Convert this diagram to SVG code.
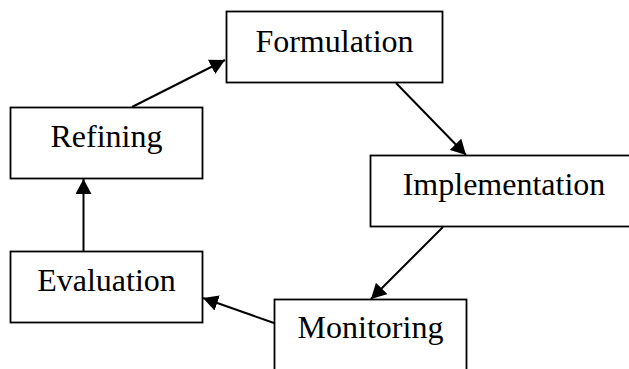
<svg xmlns="http://www.w3.org/2000/svg" width="629" height="369" viewBox="0 0 629 369">
<style>
.box{fill:#fff;stroke:#000;stroke-width:1.8}
.lbl{font-family:"Liberation Serif","Times New Roman",serif;font-size:32px;fill:#000;text-anchor:middle}
.edge{stroke:#000;stroke-width:2;fill:none;marker-end:url(#ah)}
</style>
<defs>
<marker id="ah" markerUnits="userSpaceOnUse" markerWidth="16" markerHeight="16" refX="15" refY="8" orient="auto">
<path d="M0,0 L15,8 L0,16 z" fill="#000"/>
</marker>
</defs>
<rect width="629" height="369" fill="#fff"/>
<g id="formulation"><rect class="box" x="226.5" y="11.5" width="216" height="71"/><text class="lbl" x="334.5" y="52">Formulation</text></g>
<g id="refining"><rect class="box" x="10.5" y="107.5" width="192" height="71"/><text class="lbl" x="106.5" y="147">Refining</text></g>
<g id="implementation"><rect class="box" x="370.5" y="155.5" width="270" height="71"/><text class="lbl" x="504" y="195">Implementation</text></g>
<g id="evaluation"><rect class="box" x="10.5" y="251.5" width="192" height="71"/><text class="lbl" x="106.5" y="291">Evaluation</text></g>
<g id="monitoring"><rect class="box" x="274.5" y="299.5" width="192" height="75"/><text class="lbl" x="370.5" y="338">Monitoring</text></g>
<g id="connectors">
<line class="edge" x1="132" y1="107" x2="225" y2="60"/>
<line class="edge" x1="396" y1="83" x2="466" y2="155"/>
<line class="edge" x1="443" y1="227" x2="371" y2="299"/>
<line class="edge" x1="274" y1="323" x2="203" y2="298"/>
<line class="edge" x1="83.5" y1="251" x2="83.5" y2="179"/>
</g>
</svg>
